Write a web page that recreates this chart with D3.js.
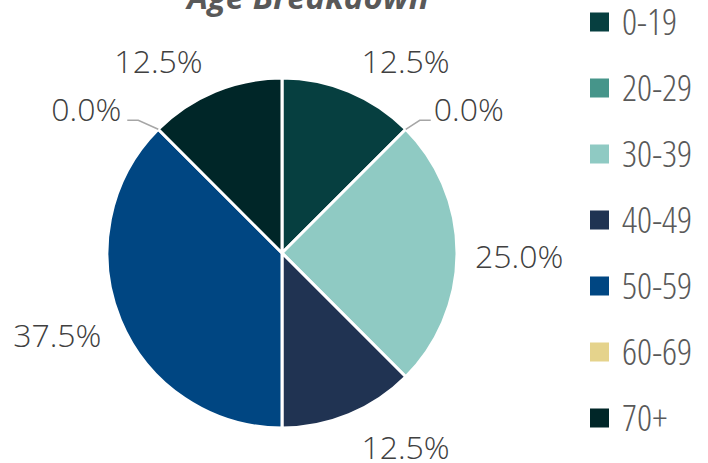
<!DOCTYPE html>
<html>
<head>
<meta charset="utf-8">
<script src="https://cdn.jsdelivr.net/npm/d3@7"></script>
<style>
	body { margin: 0; background: #fff; }
	svg { display: block; }
	text { font-family: "Open Sans", "Liberation Sans", sans-serif; }
</style>
</head>
<body>
<svg id="chart" width="708" height="463"></svg>
<script>
const categories = ["0-19", "20-29", "30-39", "40-49", "50-59", "60-69", "70+"]
const shares = [12.5, 0, 25, 12.5, 37.5, 0, 12.5]
const colours = ["#063f40", "#46958a", "#8fcac3", "#203352", "#004682", "#e5d38c", "#002628"]

const width = 708
const height = 463
const cx = 282
const cy = 253
const radius = 175

const svg = d3.select("#chart")

// Title, partly cut off at the top
svg.append("text")
	.attr("x", 308)
	.attr("y", 9)
	.attr("text-anchor", "middle")
	.style("font-size", "33px")
	.style("font-weight", 700)
	.style("font-style", "italic")
	.style("fill", "#595959")
	.text("Age Breakdown")

const data = categories.map((c, i) => ({ label: c, value: shares[i] }))
const colour = d3.scaleOrdinal().domain(categories).range(colours)

const pie = d3.pie()
	.sort(null)
	.value(d => d.value)
const arcs = pie(data)

const arc = d3.arc()
	.innerRadius(0)
	.outerRadius(radius)

const g = svg.append("g")
	.attr("transform", `translate(${cx},${cy})`)

g.selectAll("path.slice")
	.data(arcs.filter(d => d.data.value > 0))
	.join("path")
	.attr("class", "slice")
	.attr("d", arc)
	.attr("fill", d => colour(d.data.label))
	.attr("stroke", "#fff")
	.attr("stroke-width", 3)
	.attr("stroke-linejoin", "round")

// Labels outside the pie
const labelGap = 18
const labelHeight = 29
const fmt = d => d.toFixed(1) + "%"

arcs.forEach(d => {
	let a = (d.startAngle + d.endAngle) / 2
	let s = Math.sin(a)
	let c = Math.cos(a)
	if (d.data.value > 0) {
		// box corner facing the centre sits just outside the rim
		let px = s * (radius + labelGap) + Math.sign(s) * 6 * Math.abs(c)
		let py = -c * (radius + labelGap)
		let anchor = s > 0.01 ? "start" : (s < -0.01 ? "end" : "middle")
		g.append("text")
			.attr("x", px)
			.attr("y", py + labelHeight * (1 - c) / 2 - Math.max(c, 0) * 3)
			.attr("text-anchor", anchor)
			.style("font-size", "32px")
			.style("font-weight", 300)
			.style("fill", "#404040")
			.text(fmt(d.data.value))
	} else {
		// Zero slices get a leader line
		let dir = s >= 0 ? 1 : -1
		let x0 = s * radius
		let y0 = -c * radius
		let x1 = x0 + dir * (dir > 0 ? 14 : 20)
		let y1 = y0 - 9
		let x2 = x1 + dir * 11
		g.append("polyline")
			.attr("points", [[x0, y0], [x1, y1], [x2, y1]].map(p => p.join(",")).join(" "))
			.attr("fill", "none")
			.attr("stroke", "#a6a6a6")
			.attr("stroke-width", 1.5)
		g.append("text")
			.attr("x", x2 + dir * (dir > 0 ? 3 : 6))
			.attr("y", y1 + 1)
			.attr("text-anchor", dir > 0 ? "start" : "end")
			.style("font-size", "32px")
			.style("font-weight", 300)
			.style("fill", "#404040")
			.text(fmt(d.data.value))
	}
})

// Legend
const legendY = d3.scalePoint()
	.domain(categories)
	.range([22, 418])

const legend = svg.append("g")
	.attr("class", "legend")
	.selectAll("g")
	.data(categories)
	.join("g")
	.attr("transform", d => `translate(590,${legendY(d)})`)

legend.append("rect")
	.attr("x", 0)
	.attr("y", -9.5)
	.attr("width", 19)
	.attr("height", 19)
	.attr("fill", d => colour(d))

legend.append("text")
	.attr("x", 32)
	.attr("y", 13)
	.style("font-size", "37px")
	.style("font-weight", 300)
	.style("font-stretch", "condensed")
	.style("fill", "#595959")
	.text(d => d)
</script>
</body>
</html>
